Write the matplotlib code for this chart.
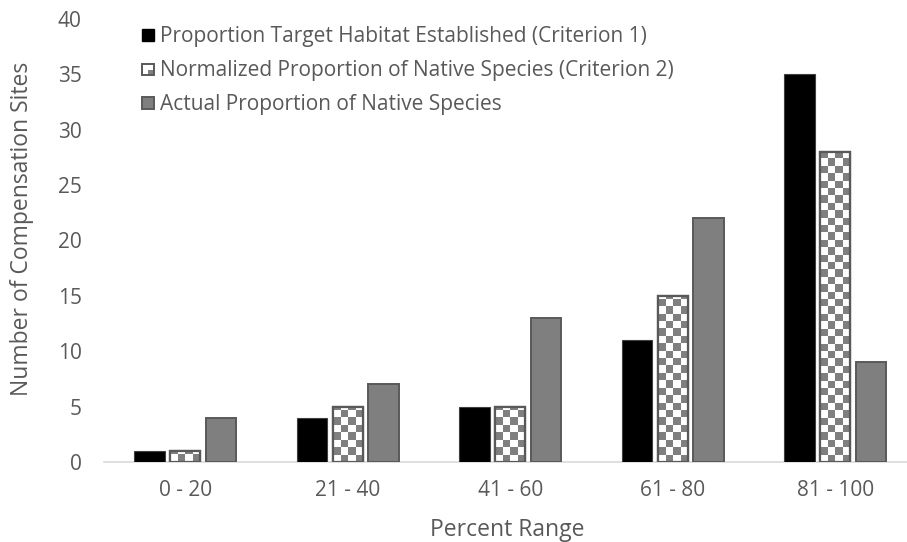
import numpy as np
import matplotlib
matplotlib.use("Agg")
import matplotlib.pyplot as plt
from matplotlib.patches import Rectangle, Patch
from matplotlib.legend_handler import HandlerBase

# Data
categories = ["0 - 20", "21 - 40", "41 - 60", "61 - 80", "81 - 100"]
habitat_established = [1, 4, 5, 11, 35]
normalized_native = [1, 5, 5, 15, 28]
actual_native = [4, 7, 13, 22, 9]

series_labels = [
    "Proportion Target Habitat Established (Criterion 1)",
    "Normalized Proportion of Native Species (Criterion 2)",
    "Actual Proportion of Native Species",
]

TEXT = "#595959"
GRAY = "#7f7f7f"
EDGE = "#595959"

plt.rcParams["font.family"] = ["Open Sans", "DejaVu Sans"]

fig = plt.figure(figsize=(9.07, 5.42), dpi=100)
W, H = 907, 542
ax = fig.add_axes([104 / W, 80 / H, 812.5 / W, 443 / H])

x = np.arange(len(categories))
width = 0.185
offset = 0.22

ax.bar(x - offset, habitat_established, width, color="black",
       edgecolor="#404040", linewidth=0.8, zorder=3)
checker_bars = ax.bar(x, normalized_native, width, color="white",
                      edgecolor=EDGE, linewidth=1.6, zorder=3)
ax.bar(x + offset, actual_native, width, color=GRAY,
       edgecolor=EDGE, linewidth=1.4, zorder=3)

# checkerboard texture clipped to each bar of the second series
cell = 7.4
nx = int(round(812.5 / cell))
ny = int(round(443 / cell))
yy, xx = np.mgrid[0:ny, 0:nx]
checker = ((xx + yy) % 2).astype(float)
for bar in checker_bars:
    im = ax.imshow(checker, cmap=matplotlib.colors.ListedColormap(["white", GRAY]),
                   extent=[0, 1, 0, 1], transform=ax.transAxes,
                   interpolation="nearest", aspect="auto", zorder=3.5)
    im.set_clip_path(bar)
    ax.add_patch(Rectangle(bar.get_xy(), bar.get_width(), bar.get_height(),
                           fill=False, edgecolor=EDGE, linewidth=1.6, zorder=4))

ax.set_xlim(-0.5, len(categories) - 0.5)
ax.set_ylim(0, 40)
ax.set_yticks(range(0, 41, 5))
ax.set_xticks(x)
ax.set_xticklabels(categories)

for side in ["top", "right", "left"]:
    ax.spines[side].set_visible(False)
ax.spines["bottom"].set_color("#d9d9d9")
ax.spines["bottom"].set_linewidth(1.2)
ax.tick_params(axis="both", length=0, colors=TEXT, labelsize=15)
ax.tick_params(axis="y", pad=16)
ax.tick_params(axis="x", pad=13)

fig.text(22 / W, 1 - 229 / H, "Number of Compensation Sites", rotation=90,
         ha="center", va="center", color=TEXT, fontsize=16.5)
fig.text(507 / W, 1 - 530 / H, "Percent Range", ha="center", va="center",
         color=TEXT, fontsize=16.5)


class CheckerHandler(HandlerBase):
    def create_artists(self, legend, orig_handle, xdescent, ydescent,
                       width, height, fontsize, trans):
        s = min(width, height)
        x0, y0 = -xdescent, -ydescent
        h = s / 2
        arts = [
            Rectangle((x0, y0), s, s, facecolor="white", edgecolor="none"),
            Rectangle((x0 + h, y0), h, h, facecolor=GRAY, edgecolor="none"),
            Rectangle((x0, y0), s, s, fill=False, edgecolor=EDGE, linewidth=1.4),
        ]
        for a in arts:
            a.set_transform(trans)
        return arts


handles = [
    Patch(facecolor="black", edgecolor="black"),
    Patch(facecolor="white", edgecolor=EDGE),
    Patch(facecolor=GRAY, edgecolor=EDGE, linewidth=1.4),
]
leg = ax.legend(handles, series_labels, loc="upper left",
                bbox_to_anchor=(132 / W, 1 - 16 / H), bbox_transform=fig.transFigure,
                frameon=False, fontsize=15, handlelength=0.55, handleheight=0.55,
                handletextpad=0.3, labelspacing=0.62, borderpad=0,
                handler_map={handles[1]: CheckerHandler()})
for t in leg.get_texts():
    t.set_color(TEXT)

fig.savefig("out.png", dpi=100)
